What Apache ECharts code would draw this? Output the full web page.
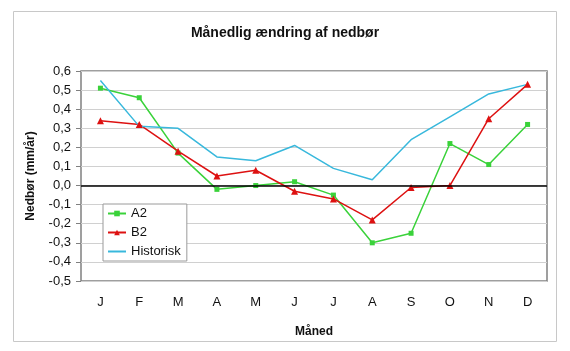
<!DOCTYPE html>
<html><head><meta charset="utf-8">
<script src="https://cdn.jsdelivr.net/npm/echarts@6/dist/echarts.min.js"></script>
<style>html,body{margin:0;padding:0;background:#fff}#c{width:570px;height:351px}</style>
</head><body><div id="c"></div>
<script>
const months = ['J','F','M','A','M','J','J','A','S','O','N','D'];
const a2 = [0.51,0.46,0.17,-0.02,0.00,0.02,-0.05,-0.30,-0.25,0.22,0.11,0.32];
const b2 = [0.34,0.32,0.18,0.05,0.08,-0.03,-0.07,-0.18,-0.01,0.00,0.35,0.53];
const historisk = [0.55,0.31,0.30,0.15,0.13,0.21,0.09,0.03,0.24,0.36,0.48,0.53];
const yTicks = [-0.5,-0.4,-0.3,-0.2,-0.1,0,0.1,0.2,0.3,0.4,0.5,0.6];

const chart = echarts.init(document.getElementById('c'), null, {renderer:'canvas'});
const font = 'Liberation Sans, Arial, sans-serif';
chart.setOption({
  animation:false,
  backgroundColor:'#fff',
  textStyle:{fontFamily:font},
  graphic:[{type:'rect',shape:{x:13.5,y:11.5,width:543,height:330},style:{fill:'none',stroke:'#c8c8c8',lineWidth:1},z:-1}],
  title:{text:'Månedlig ændring af nedbør',left:'center',top:21,textStyle:{fontFamily:font,fontSize:14,fontWeight:'bold',color:'#111'}},
  grid:{left:81,right:23,top:71,bottom:70,show:true,borderColor:'#808080',borderWidth:1.5,backgroundColor:'transparent'},
  legend:{orient:'vertical',left:103,top:204,padding:[3,6,3,4],itemGap:6,itemWidth:18,itemHeight:7,
    backgroundColor:'#fff',borderColor:'#9a9a9a',borderWidth:1,borderRadius:0,
    textStyle:{fontFamily:font,fontSize:13,color:'#111'},
    data:['A2','B2',{name:'Historisk',itemStyle:{opacity:0}}]},
  xAxis:{type:'category',data:months,boundaryGap:true,name:'Måned',nameLocation:'middle',nameGap:45,
    nameTextStyle:{fontFamily:font,fontSize:12,fontWeight:'bold',color:'#111'},
    axisLine:{show:false},axisTick:{show:false},
    axisLabel:{fontSize:13,color:'#111',margin:15,fontFamily:font}},
  yAxis:{type:'value',min:-0.5,max:0.6,interval:0.1,name:'Nedbør (mm/år)',nameLocation:'middle',nameGap:44,
    nameTextStyle:{fontFamily:font,fontSize:12,fontWeight:'bold',color:'#111'},
    axisLine:{show:false},axisTick:{show:true,length:5,lineStyle:{color:'#808080'}},
    axisLabel:{fontSize:13,color:'#111',margin:10,fontFamily:font,
      formatter:v=>{const r=Math.round(v*10)/10; return r.toFixed(1).replace('.',',');}},
    splitLine:{show:true,lineStyle:{color:'#d0d0d0',width:1}}},
  series:[
    {name:'A2',type:'line',data:a2,symbol:'rect',symbolSize:5,color:'#3ad23a',lineStyle:{width:1.5,color:'#3ad23a'},itemStyle:{color:'#3ad23a'},
     markLine:{silent:true,symbol:'none',label:{show:false},lineStyle:{color:'#000',width:1.5,type:'solid'},data:[{yAxis:0}]}},
    {name:'B2',type:'line',data:b2,symbol:'triangle',symbolSize:7,color:'#dd1111',lineStyle:{width:1.5,color:'#dd1111'},itemStyle:{color:'#dd1111'}},
    {name:'Historisk',type:'line',data:historisk,symbol:'none',color:'#38b8dc',lineStyle:{width:1.5,color:'#38b8dc'}}
  ]
});
</script></body></html>
